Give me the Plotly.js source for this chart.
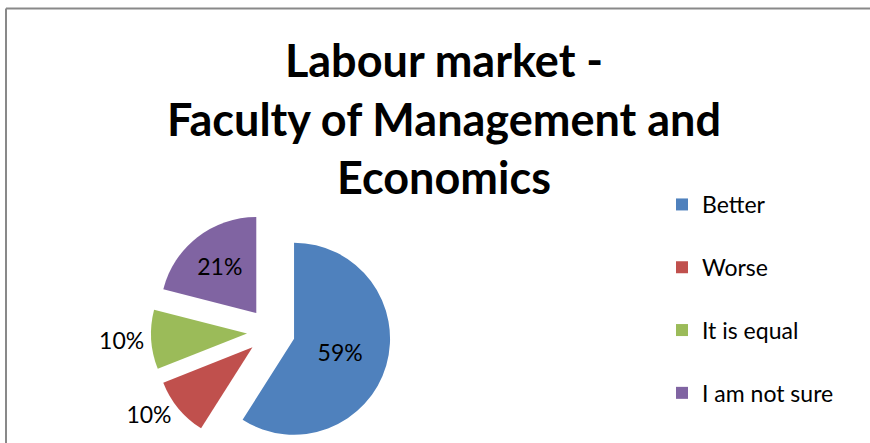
<!DOCTYPE html>
<html>
<head>
<meta charset="utf-8">
<script src="https://cdn.plot.ly/plotly-3.0.1.min.js"></script>
<style>
  html, body { margin: 0; padding: 0; overflow: hidden; background: #fff; }
  #chart { width: 870px; height: 460px; }
</style>
</head>
<body>
<div id="chart"></div>
<script>
// Data
const categories = ['Better', 'Worse', 'It is equal', 'I am not sure'];
const shares = [59, 10, 10, 21];
const sliceColors = ['#4F81BD', '#C0504D', '#9BBB59', '#8064A2'];
const labelPositions = ['inside', 'outside', 'outside', 'inside'];
const chartTitle = ['Labour market -', 'Faculty of Management and', 'Economics'];

const W = 870, H = 460;
const cx = 271, cy = 332, boxHalf = 120;

const trace = {
  type: 'pie',
  labels: categories.map(c => c + '<br> '),
  values: shares,
  sort: false,
  direction: 'clockwise',
  rotation: 0,
  pull: [0.25, 0.25, 0.25, 0.25],
  marker: { colors: sliceColors, line: { width: 0 } },
  textinfo: 'percent',
  texttemplate: '%{percent:.0%}',
  textposition: labelPositions,
  insidetextorientation: 'horizontal',
  textfont: { family: 'Lato, sans-serif', size: 23, color: '#000' },
  hoverinfo: 'none',
  domain: {
    x: [(cx - boxHalf) / W, (cx + boxHalf) / W],
    y: [(H - (cy + boxHalf)) / H, (H - (cy - boxHalf)) / H]
  }
};

const layout = {
  width: W,
  height: H,
  margin: { l: 0, r: 0, t: 0, b: 0 },
  paper_bgcolor: '#fff',
  title: {
    text: chartTitle.join('<br>'),
    font: { family: 'Lato, sans-serif', size: 45, color: '#000', weight: 'bold' },
    x: 444 / W, xanchor: 'center', xref: 'container',
    y: 1 - 77 / H, yanchor: 'top', yref: 'container'
  },
  showlegend: true,
  legend: {
    x: 662 / W, xanchor: 'left',
    y: 1 - 183 / H, yanchor: 'top',
    valign: 'top',
    font: { family: 'Lato, sans-serif', size: 23, color: '#000' },
    bgcolor: 'rgba(0,0,0,0)'
  },
  shapes: [
    { type: 'line', xref: 'paper', yref: 'paper', x0: 6 / W, x1: 1, y0: 1 - 8.5 / H, y1: 1 - 8.5 / H,
      line: { color: '#898989', width: 2 } },
    { type: 'line', xref: 'paper', yref: 'paper', x0: 6 / W, x1: 6 / W, y0: 0, y1: 1 - 8.5 / H,
      line: { color: '#898989', width: 2 } }
  ]
};

Plotly.newPlot('chart', [trace], layout, { displayModeBar: false, staticPlot: true });
</script>
</body>
</html>
